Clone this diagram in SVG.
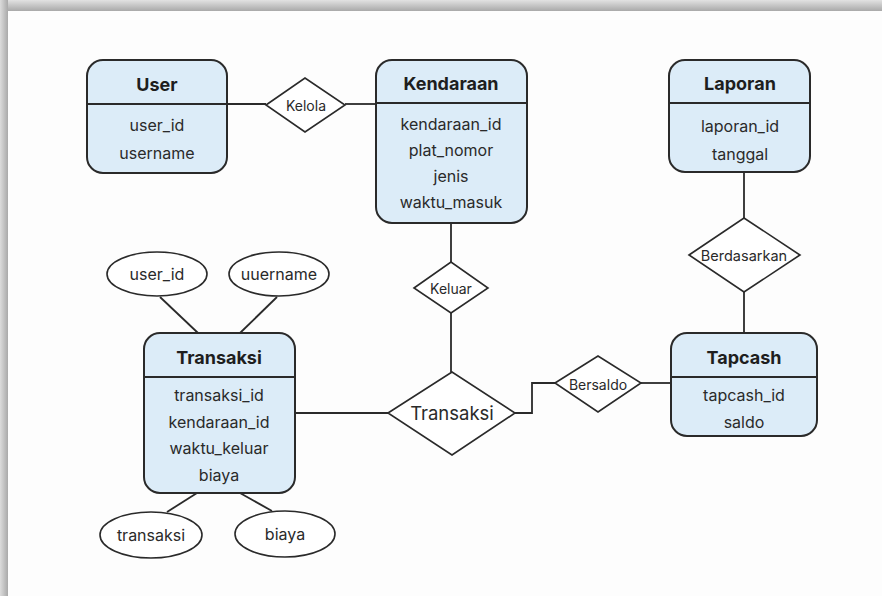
<svg xmlns="http://www.w3.org/2000/svg" width="882" height="596" viewBox="0 0 882 596">
<defs>
<linearGradient id="gTop" x1="0" y1="0" x2="0" y2="1">
<stop offset="0" stop-color="#e2e2e2"/>
<stop offset="1" stop-color="#a9a9a9"/>
</linearGradient>
<linearGradient id="gLeft" x1="0" y1="0" x2="1" y2="0">
<stop offset="0" stop-color="#dcdcdc"/>
<stop offset="1" stop-color="#a9a9a9"/>
</linearGradient>
<style>
.ent{fill:#dcecf8;stroke:#2a2a2a;stroke-width:2}
.div{stroke:#2a2a2a;stroke-width:2}
.rel{fill:#ffffff;stroke:#2a2a2a;stroke-width:1.6}
.att{fill:#ffffff;stroke:#2a2a2a;stroke-width:1.6}
.ln{fill:none;stroke:#2a2a2a;stroke-width:1.8}
text{font-family:Inter,"Liberation Sans",sans-serif;fill:#1e1e1e;text-anchor:middle;dominant-baseline:central}
.t{font-size:18px;font-weight:700}
.a{font-size:16px;fill:#2a2a2a}
.r{font-size:14px;fill:#2a2a2a}
</style>
</defs>
<rect x="0" y="0" width="882" height="11" fill="url(#gTop)"/>
<rect x="0" y="0" width="8" height="596" fill="url(#gLeft)"/>
<rect x="8" y="11" width="874" height="585" fill="#fdfdfd"/>

<g id="connectors">
<line class="ln" x1="227" y1="104" x2="266" y2="104"/>
<line class="ln" x1="345" y1="104" x2="376" y2="104"/>
<line class="ln" x1="451" y1="223" x2="451" y2="262"/>
<line class="ln" x1="451" y1="313" x2="451" y2="372"/>
<line class="ln" x1="744" y1="172" x2="744" y2="218"/>
<line class="ln" x1="744" y1="292" x2="744" y2="333"/>
<line class="ln" x1="295" y1="413" x2="388" y2="413"/>
<polyline class="ln" points="515,413 532,413 532,383 555,383"/>
<line class="ln" x1="641" y1="383" x2="671" y2="383"/>
<line class="ln" x1="160" y1="297" x2="198" y2="333"/>
<line class="ln" x1="277" y1="297" x2="240" y2="333"/>
<line class="ln" x1="197" y1="493" x2="167" y2="512"/>
<line class="ln" x1="240" y1="493" x2="272" y2="511"/>
</g>

<g id="user">
<rect class="ent" x="87" y="60" width="140" height="113" rx="16"/>
<line class="div" x1="87" y1="104" x2="227" y2="104"/>
<text class="t" x="157" y="84">User</text>
<text class="a" x="157" y="125">user_id</text>
<text class="a" x="157" y="153">username</text>
</g>

<g id="kelola">
<polygon class="rel" points="266,105 305,78 345,105 305,132"/>
<text class="r" x="306" y="105">Kelola</text>
</g>

<g id="kendaraan">
<rect class="ent" x="376" y="60" width="151" height="163" rx="16"/>
<line class="div" x1="376" y1="103" x2="527" y2="103"/>
<text class="t" x="451" y="83">Kendaraan</text>
<text class="a" x="451" y="124">kendaraan_id</text>
<text class="a" x="451" y="150">plat_nomor</text>
<text class="a" x="451" y="176">jenis</text>
<text class="a" x="451" y="202">waktu_masuk</text>
</g>

<g id="laporan">
<rect class="ent" x="669" y="60" width="141" height="112" rx="16"/>
<line class="div" x1="669" y1="103" x2="810" y2="103"/>
<text class="t" x="740" y="83">Laporan</text>
<text class="a" x="740" y="126">laporan_id</text>
<text class="a" x="740" y="154">tanggal</text>
</g>

<g id="berdasarkan">
<polygon class="rel" points="689,255 744,218 800,255 744,292"/>
<text class="r" x="744" y="255" style="font-size:14.5px">Berdasarkan</text>
</g>

<g id="keluar">
<polygon class="rel" points="414,288 451,262 488,288 451,313"/>
<text class="r" x="451" y="288">Keluar</text>
</g>

<g id="transaksi-rel">
<polygon class="rel" points="388,413 452,372 515,413 452,455"/>
<text x="452" y="413" style="font-size:18.5px;font-weight:400;fill:#2a2a2a">Transaksi</text>
</g>

<g id="bersaldo">
<polygon class="rel" points="555,383 598,356 641,383 598,412"/>
<text class="r" x="598" y="384">Bersaldo</text>
</g>

<g id="tapcash">
<rect class="ent" x="671" y="333" width="146" height="103" rx="16"/>
<line class="div" x1="671" y1="377" x2="817" y2="377"/>
<text class="t" x="744" y="357">Tapcash</text>
<text class="a" x="744" y="395">tapcash_id</text>
<text class="a" x="744" y="422">saldo</text>
</g>

<g id="transaksi">
<rect class="ent" x="144" y="333" width="151" height="160" rx="16"/>
<line class="div" x1="144" y1="377" x2="295" y2="377"/>
<text class="t" x="219" y="357">Transaksi</text>
<text class="a" x="219" y="395">transaksi_id</text>
<text class="a" x="219" y="422">kendaraan_id</text>
<text class="a" x="219" y="448">waktu_keluar</text>
<text class="a" x="219" y="475">biaya</text>
</g>

<g id="attr-user_id">
<ellipse class="att" cx="157" cy="274" rx="50" ry="22"/>
<text class="a" x="157" y="274">user_id</text>
</g>
<g id="attr-uuername">
<ellipse class="att" cx="279" cy="274" rx="50" ry="22"/>
<text class="a" x="279" y="274">uuername</text>
</g>
<g id="attr-transaksi">
<ellipse class="att" cx="151" cy="535" rx="51" ry="23"/>
<text class="a" x="151" y="535">transaksi</text>
</g>
<g id="attr-biaya">
<ellipse class="att" cx="285" cy="534" rx="50" ry="23"/>
<text class="a" x="285" y="534">biaya</text>
</g>
</svg>
